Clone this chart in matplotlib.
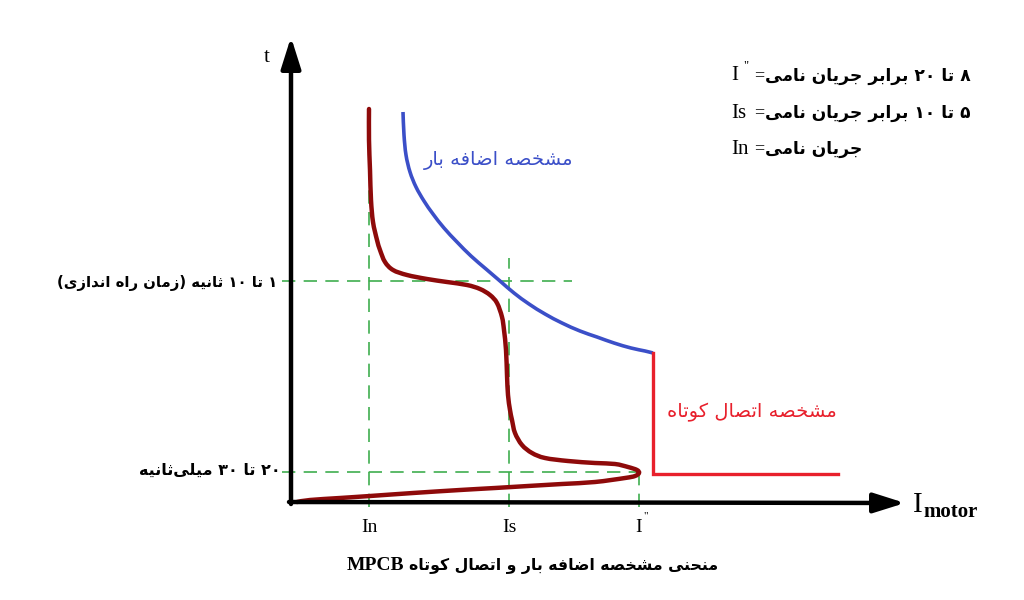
import re
import matplotlib
matplotlib.use("Agg")
import matplotlib.pyplot as plt
from matplotlib.path import Path
from matplotlib.patches import PathPatch

# ---------------- data (units relative to the origin) -------------
tick_labels = ["In", "Is", "I"]
tick_x = [78, 218, 348]
time_levels = [221, 30]            # "1 to 10 s" and "20 to 30 ms" levels

mpcb_x = [78, 78, 79, 80, 82, 86, 89, 94, 102, 116, 136, 156, 176, 189, 199, 206, 211,
          213, 215, 216, 217, 219, 221, 224, 231, 241, 254, 277, 304, 324, 337, 346, 348,
          344, 334, 304, 271, 237, 204, 169, 122, 79, 49, 19, 6]
mpcb_y = [393, 362, 332, 302, 280, 262, 252, 240, 232, 227, 223, 220, 217, 213, 207, 199,
          185, 172, 152, 127, 107, 92, 82, 69, 57, 49, 44, 41, 39, 38, 35, 32, 29, 26, 24,
          20, 18, 16, 14, 12, 9, 6, 4, 2, 0]

overload_x = [112, 113, 115, 119, 125, 133, 142, 153, 166, 180, 195, 209, 223, 238, 254,
              271, 289, 306, 323, 340, 354, 362]
overload_y = [390, 367, 347, 330, 315, 301, 288, 274, 260, 246, 233, 221, 209, 198, 188,
              179, 171, 165, 159, 154, 151, 149]

short_x = [362, 362, 547]
short_y = [149, 28, 28]

label_levels = ["۱ تا ۱۰ ثانیه (زمان راه اندازی)", "۲۰ تا ۳۰ میلی\u200cثانیه"]
legend_latin = ["I", "Is", "In"]
legend_fa = ["۸ تا ۲۰ برابر جریان نامی", "۵ تا ۱۰ برابر جریان نامی", "جریان نامی"]
overload_label = "مشخصه اضافه بار"
short_label = "مشخصه اتصال کوتاه"
title_fa = "منحنی مشخصه اضافه بار و اتصال کوتاه"
title_latin = "MPCB"

# ---------------- minimal Persian shaping + RTL ordering ----------------
FORMS = {
    '\u0627': ('\uFE8D', '\uFE8E', None, None),
    '\u0628': ('\uFE8F', '\uFE90', '\uFE91', '\uFE92'),
    '\u062A': ('\uFE95', '\uFE96', '\uFE97', '\uFE98'),
    '\u062B': ('\uFE99', '\uFE9A', '\uFE9B', '\uFE9C'),
    '\u062C': ('\uFE9D', '\uFE9E', '\uFE9F', '\uFEA0'),
    '\u062D': ('\uFEA1', '\uFEA2', '\uFEA3', '\uFEA4'),
    '\u062E': ('\uFEA5', '\uFEA6', '\uFEA7', '\uFEA8'),
    '\u062F': ('\uFEA9', '\uFEAA', None, None),
    '\u0631': ('\uFEAD', '\uFEAE', None, None),
    '\u0632': ('\uFEAF', '\uFEB0', None, None),
    '\u0634': ('\uFEB5', '\uFEB6', '\uFEB7', '\uFEB8'),
    '\u0635': ('\uFEB9', '\uFEBA', '\uFEBB', '\uFEBC'),
    '\u0636': ('\uFEBD', '\uFEBE', '\uFEBF', '\uFEC0'),
    '\u0641': ('\uFED1', '\uFED2', '\uFED3', '\uFED4'),
    '\u06A9': ('\uFB8E', '\uFB8F', '\uFB90', '\uFB91'),
    '\u0644': ('\uFEDD', '\uFEDE', '\uFEDF', '\uFEE0'),
    '\u0645': ('\uFEE1', '\uFEE2', '\uFEE3', '\uFEE4'),
    '\u0646': ('\uFEE5', '\uFEE6', '\uFEE7', '\uFEE8'),
    '\u0647': ('\uFEE9', '\uFEEA', '\uFEEB', '\uFEEC'),
    '\u0648': ('\uFEED', '\uFEEE', None, None),
    '\u06CC': ('\uFBFC', '\uFBFD', '\uFBFE', '\uFBFF'),
}


def _joins_next(c):
    return c in FORMS and FORMS[c][2] is not None


def shape(text):
    ch = list(text)
    n = len(ch)
    out = []
    i = 0
    while i < n:
        c = ch[i]
        if c not in FORMS:
            out.append('' if c == '\u200c' else c)
            i += 1
            continue
        prev = ch[i - 1] if i > 0 else None
        cp = prev is not None and _joins_next(prev)
        if c == '\u0644' and i + 1 < n and ch[i + 1] == '\u0627':
            out.append('\uFEFC' if cp else '\uFEFB')
            i += 2
            continue
        nxt = ch[i + 1] if i + 1 < n else None
        cn = _joins_next(c) and nxt in FORMS
        iso, fin, ini, med = FORMS[c]
        out.append(med if (cp and cn) else fin if cp else ini if cn else iso)
        i += 1
    return ''.join(out)


def rtl(text):
    s = shape(text)[::-1]
    s = s.translate(str.maketrans('()', ')('))
    s = re.sub('[\u06F0-\u06F9]+', lambda m: m.group(0)[::-1], s)
    return s


def smooth_path(xs, ys):
    """Catmull-Rom curve through the given points, expressed as cubic Bezier segments."""
    pts = list(zip(xs, ys))
    n = len(pts)
    verts = [pts[0]]
    codes = [Path.MOVETO]
    for i in range(n - 1):
        p0 = pts[i - 1] if i > 0 else pts[i]
        p1 = pts[i]
        p2 = pts[i + 1]
        p3 = pts[i + 2] if i + 2 < n else pts[i + 1]
        c1 = (p1[0] + (p2[0] - p0[0]) / 6.0, p1[1] + (p2[1] - p0[1]) / 6.0)
        c2 = (p2[0] - (p3[0] - p1[0]) / 6.0, p2[1] - (p3[1] - p1[1]) / 6.0)
        verts += [c1, c2, p2]
        codes += [Path.CURVE4] * 3
    return Path(verts, codes)


# ---------------- figure ----------------
FA = ['DejaVu Sans']
SERIF = ['Liberation Serif', 'DejaVu Serif']

fig = plt.figure(figsize=(10.24, 6.0), dpi=100)
ax = fig.add_axes([0, 0, 1, 1])
ax.set_xlim(-291, 733)
ax.set_ylim(-98, 502)
ax.axis('off')

green = '#3fae4f'
dash_kw = dict(color=green, lw=1.2, dashes=(8, 5), zorder=1)
ax.plot([tick_x[0], tick_x[0]], [-5, 317], **dash_kw)
ax.plot([tick_x[1], tick_x[1]], [-5, 244], **dash_kw)
ax.plot([tick_x[2], tick_x[2]], [-5, time_levels[1]], **dash_kw)
ax.plot([-9, 281], [time_levels[0], time_levels[0]], **dash_kw)
ax.plot([-9, tick_x[2] + 1], [time_levels[1], time_levels[1]], **dash_kw)

# axes with arrows
arrow_kw = dict(arrowstyle='-|>,head_length=0.95,head_width=0.3', color='black',
                lw=3.2, mutation_scale=20, shrinkA=0, shrinkB=0)
ax.annotate('', xy=(0, 465), xytext=(0, -2), arrowprops=arrow_kw, zorder=5)
ax.annotate('', xy=(614, -1), xytext=(-2, 0), arrowprops=arrow_kw, zorder=5)

# curves
ax.add_patch(PathPatch(smooth_path(overload_x, overload_y), fill=False, edgecolor='#3b4fc8',
                       lw=2.6, capstyle='butt', joinstyle='round', zorder=3))
ax.plot(short_x, short_y, color='#e8202c', lw=2.4, solid_joinstyle='miter', zorder=3)
ax.add_patch(PathPatch(smooth_path(mpcb_x, mpcb_y), fill=False, edgecolor='#8e0a0a',
                       lw=3.2, capstyle='round', joinstyle='round', zorder=4))

# axis labels
ax.text(-24, 444, 't', family=SERIF, fontsize=15, ha='center', va='center')
ax.text(622, -10, 'I', family=SERIF, fontsize=21, ha='left', va='baseline')
ax.text(632, -15, 'motor', family=SERIF, fontsize=15, weight='bold', ha='left', va='baseline')

for x, lab in zip(tick_x, tick_labels):
    ax.text(x, -25, lab, family=SERIF, fontsize=14, ha='center', va='center')
ax.text(tick_x[2] + 7, -14, '"', family=SERIF, fontsize=8, ha='center', va='center')

# level labels (left)
ax.text(-14, time_levels[0] - 2, rtl(label_levels[0]), family=FA, fontsize=10.7,
        weight='bold', ha='right', va='center')
ax.text(-10, time_levels[1] + 2, rtl(label_levels[1]), family=FA, fontsize=11.5,
        weight='bold', ha='right', va='center')

# legend text (top right)
leg_y = [426, 389, 353]
for y, lat, fa in zip(leg_y, legend_latin, legend_fa):
    ax.text(440, y, lat, family=SERIF, fontsize=15, ha='left', va='center')
    ax.text(468, y, '=', family=SERIF, fontsize=13, ha='center', va='center')
    ax.text(474, y, rtl(fa), family=FA, fontsize=12.3, weight='bold', ha='left', va='center')
ax.text(455, leg_y[0] + 10, '"', family=SERIF, fontsize=9, ha='center', va='center')

# curve labels
ax.text(282, 342, rtl(overload_label), family=FA, fontsize=14, color='#3b4fc8',
        ha='right', va='center')
ax.text(546, 90, rtl(short_label), family=FA, fontsize=14, color='#e8202c',
        ha='right', va='center')

# title: Persian part, then the Latin part placed just to its left
t_fa = ax.text(427, -64, rtl(title_fa), family=FA, fontsize=11.3, weight='bold',
               ha='right', va='center')
fig.canvas.draw()
bb = t_fa.get_window_extent()
x_left = ax.transData.inverted().transform((bb.x0 - 5, bb.y0))[0]
ax.text(x_left, -64, title_latin, family=SERIF, fontsize=14, weight='bold',
        ha='right', va='center')

fig.savefig('out.png', dpi=100)
